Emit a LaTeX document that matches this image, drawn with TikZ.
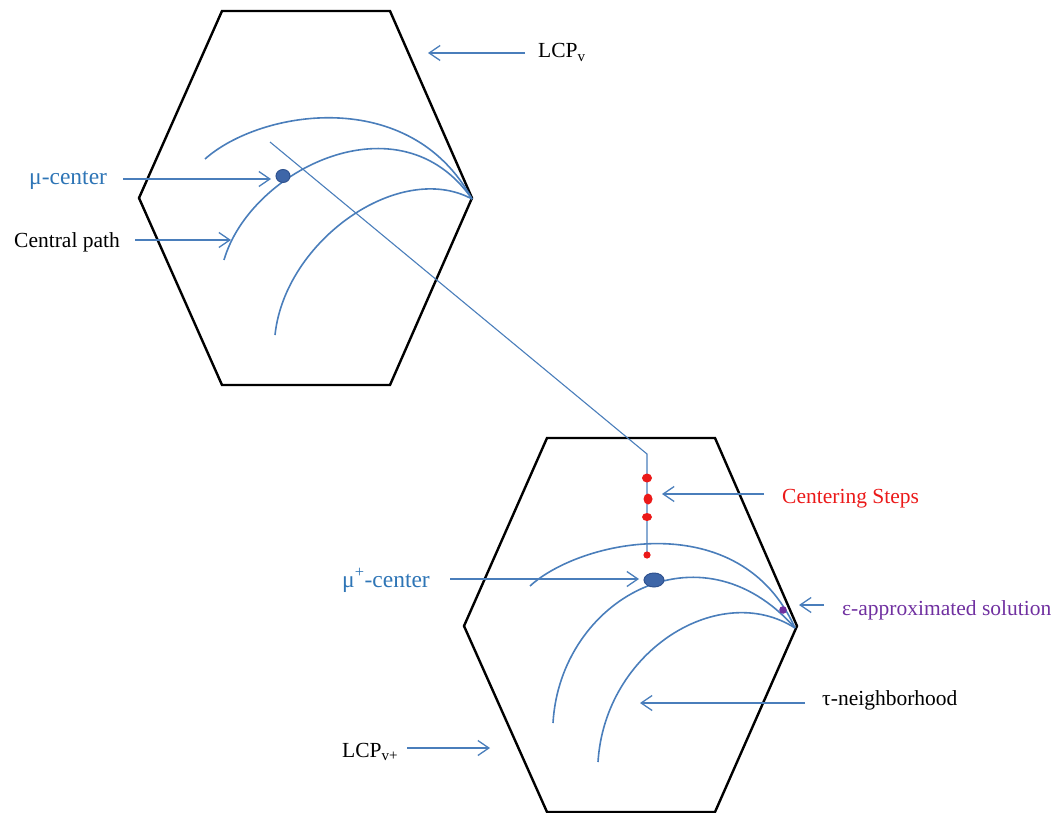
\documentclass[tikz,border=0pt]{standalone}
\usepackage{fontspec}
\setmainfont{Liberation Serif}
\usetikzlibrary{arrows.meta,shapes.geometric}
\definecolor{curveblue}{RGB}{74,126,187}
\definecolor{textblue}{RGB}{46,117,182}
\definecolor{dotblue}{RGB}{62,102,168}
\definecolor{dotedge}{RGB}{47,82,143}
\definecolor{stepred}{RGB}{235,25,25}
\definecolor{epspurple}{RGB}{112,48,160}
\tikzset{
  hexa/.style={draw=black,line width=2.4pt,line join=miter},
  pathcurve/.style={draw=curveblue,line width=1.6pt},
  thinline/.style={draw=curveblue,line width=1.1pt},
  arr/.style={draw=curveblue,line width=1.3pt,-{Straight Barb[length=11pt,width=15pt,line width=1.3pt]}},
  lbl/.style={anchor=base west,inner sep=0pt,font=\fontsize{21.5}{24}\selectfont},
  mulbl/.style={anchor=base west,inner sep=0pt,text=textblue,font=\fontsize{23.5}{26}\selectfont},
  cdot/.style={draw=dotedge,fill=dotblue,ellipse,inner sep=0pt,line width=1pt},
}
\begin{document}
\begin{tikzpicture}[x=1pt,y=-1pt]
\useasboundingbox (0,0) rectangle (1054,813);
% hexagons
\draw[hexa] (222,11) -- (390,11) -- (472,198) -- (390,385) -- (222,385) -- (139,198) -- cycle;
\draw[hexa] (547,438) -- (715,438) -- (797,626) -- (715,812) -- (547,812) -- (464,626) -- cycle;
% top curves
\draw[pathcurve] (205,159) .. controls (260,110) and (410,85) .. (472,199);
\draw[pathcurve] (224,260) .. controls (250,170) and (400,95) .. (472,199);
\draw[pathcurve] (275,335) .. controls (285,240) and (400,160) .. (472,199);
% bottom curves
\draw[pathcurve] (530,586) .. controls (580,540) and (740,505) .. (795,628);
\draw[pathcurve] (553,723) .. controls (560,600) and (700,520) .. (795,628);
\draw[pathcurve] (598,762) .. controls (605,650) and (720,580) .. (795,628);
% connecting path
\coordinate (dStart) at (270,142);
\coordinate (dBend) at (647,454);
\coordinate (dEnd) at (647,555);
\draw[thinline] (dStart) -- (dBend) -- (dEnd);
% centers
\node[cdot,minimum width=14pt,minimum height=13pt] (mu) at (283,176) {};
\node[cdot,minimum width=20pt,minimum height=14pt] (muplus) at (654,580) {};
% red centering steps
\fill[stepred] (647,478) ellipse [x radius=5pt,y radius=4.5pt];
\fill[stepred] (648,499) ellipse [x radius=4.5pt,y radius=5.5pt];
\fill[stepred] (647,517) ellipse [x radius=5pt,y radius=4pt];
\fill[stepred] (647,555) circle [radius=3.6pt];
% epsilon solution
\fill[epspurple] (783,610) circle [radius=3.8pt];
% labels
\node[lbl] (lLCPv) at (538,58) {LCP\textsubscript{v}};
\node[mulbl] (lmu) at (29,185) {μ-center};
\node[lbl] (lcp) at (14,247) {Central path};
\node[lbl,text=stepred] (lcs) at (782,503) {Centering Steps};
\node[mulbl] (lmup) at (342,587) {μ\textsuperscript{+}-center};
\node[lbl,text=epspurple] (leps) at (842,615) {ε-approximated solution};
\node[lbl] (ltau) at (822,705) {τ-neighborhood};
\node[lbl] (lLCPvp) at (342,757) {LCP\textsubscript{v+}};
% arrows
\coordinate (aLCPvT) at (525,53); \coordinate (aLCPvH) at (428,53);
\coordinate (aMuT) at (123,179); \coordinate (aMuH) at (271,179);
\coordinate (aCpT) at (135,240); \coordinate (aCpH) at (231,240);
\coordinate (aCsT) at (764,494); \coordinate (aCsH) at (662,494);
\coordinate (aMupT) at (450,579); \coordinate (aMupH) at (639,579);
\coordinate (aEpsT) at (824,605); \coordinate (aEpsH) at (799,605);
\coordinate (aTauT) at (805,703); \coordinate (aTauH) at (640,703);
\coordinate (aLvpT) at (407,748); \coordinate (aLvpH) at (490,748);
\draw[arr] (aLCPvT) -- (aLCPvH);
\draw[arr] (aMuT) -- (aMuH);
\draw[arr] (aCpT) -- (aCpH);
\draw[arr] (aCsT) -- (aCsH);
\draw[arr] (aMupT) -- (aMupH);
\draw[arr] (aEpsT) -- (aEpsH);
\draw[arr] (aTauT) -- (aTauH);
\draw[arr] (aLvpT) -- (aLvpH);
\end{tikzpicture}
\end{document}
